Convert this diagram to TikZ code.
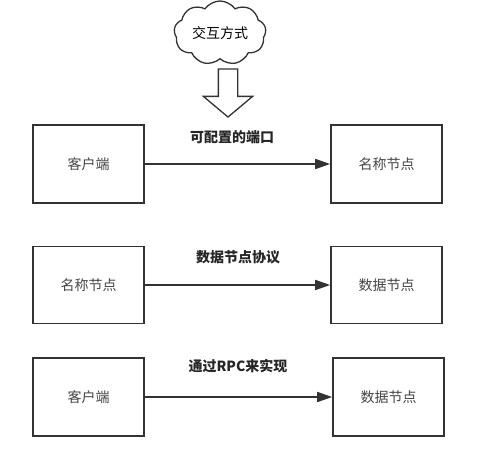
\documentclass[tikz,border=0pt]{standalone}
\usepackage{fontspec}
\setmainfont{Noto Sans CJK SC}
\usepackage{xcolor}
\usepackage{tikz}
\usetikzlibrary{shapes.symbols,shapes.arrows,arrows.meta}
\definecolor{linegray}{HTML}{333333}
\definecolor{textgray}{HTML}{444444}

\begin{document}
\begin{tikzpicture}[x=1pt, y=-1pt,
        box/.style={draw=linegray, line width=1.6pt, minimum width=111pt,
            minimum height=78pt, text=textgray, font=\fontsize{14}{16}\selectfont},
        link/.style={-{Triangle[length=15pt,width=10pt]}, draw=linegray, line width=1.7pt},
        linklabel/.style={font=\fontsize{14}{16}\selectfont\bfseries, text=black!85}]
        \useasboundingbox (0,0) rectangle (495,452);

        \node[cloud, draw=linegray, line width=1.3pt, cloud puffs=9, cloud puff arc=110,
            aspect=1.5, minimum width=92pt, minimum height=64pt, inner sep=0pt,
            font=\fontsize{14}{16}\selectfont] (mode) at (220,33) {交互方式};
        \node[single arrow, draw=linegray, line width=1.3pt, shape border rotate=270,
            inner sep=9pt, single arrow head extend=15pt, single arrow tip angle=100,
            minimum height=48pt] (down) at (228,89) {};

        \node[box] (c1) at (88.5,164) {客户端};
        \node[box] (n1) at (386.5,164) {名称节点};
        \node[box, minimum height=77pt] (n2) at (88.5,285) {名称节点};
        \node[box, minimum height=77pt] (d2) at (386.5,285) {数据节点};
        \node[box] (c3) at (88.5,397) {客户端};
        \node[box] (d3) at (388.5,397) {数据节点};

        \draw[link] (c1) -- (n1);
        \draw[link] (n2) -- (d2);
        \draw[link] (c3) -- (d3);

        \node[linklabel] (port) at (232,137) {可配置的端口};
        \node[linklabel] (proto) at (238,257) {数据节点协议};
        \node[linklabel] (rpc) at (238,366) {通过RPC来实现};
\end{tikzpicture}
\end{document}
